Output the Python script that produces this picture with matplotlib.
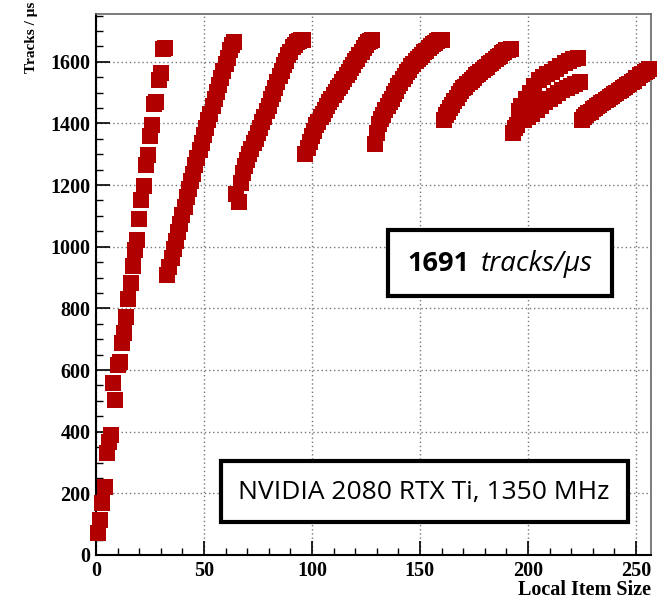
import matplotlib
matplotlib.use('Agg')
from matplotlib import pyplot as plt
from matplotlib.patches import Rectangle
import numpy as np

#tracks per microsecond, one block per 32 local items
SEG_1 = [70, 113, 168, 221, 330, 367, 389, 557, 502, 616, 627, 688, 719, 772, 832, 881, 938, 989, 1023, 1091, 1153, 1197, 1266, 1297, 1358, 1394, 1462, 1470, 1540, 1563, 1640, 1645]
SEG_2 = [907, 935, 962, 992, 1018, 1049, 1074, 1104, 1130, 1161, 1186, 1214, 1237, 1265, 1287, 1314, 1337, 1363, 1385, 1411, 1432, 1457, 1478, 1503, 1524, 1549, 1569, 1593, 1613, 1637, 1656, 1664]
SEG_3 = [1172, 1145, 1208, 1240, 1262, 1281, 1302, 1317, 1338, 1351, 1369, 1385, 1405, 1421, 1441, 1457, 1478, 1495, 1516, 1533, 1553, 1569, 1589, 1604, 1621, 1633, 1647, 1655, 1664, 1667, 1671, 1672]
SEG_4 = [1300, 1321, 1339, 1359, 1375, 1395, 1406, 1421, 1431, 1445, 1455, 1469, 1479, 1492, 1501, 1514, 1523, 1536, 1545, 1558, 1566, 1579, 1588, 1601, 1610, 1623, 1632, 1645, 1654, 1663, 1667, 1670]
SEG_5 = [1334, 1370, 1398, 1415, 1427, 1443, 1455, 1469, 1480, 1495, 1506, 1521, 1531, 1545, 1554, 1566, 1574, 1585, 1592, 1602, 1608, 1617, 1622, 1631, 1636, 1645, 1650, 1658, 1661, 1667, 1670, 1672]
SEG_6 = [1410, 1426, 1437, 1451, 1461, 1474, 1483, 1496, 1504, 1514, 1519, 1528, 1533, 1542, 1547, 1556, 1560, 1568, 1572, 1580, 1584, 1592, 1596, 1604, 1608, 1616, 1620, 1628, 1631, 1637, 1638, 1641]
SEG_7 = [1370, 1385, 1395, 1440, 1457, 1410, 1480, 1420, 1500, 1432, 1520, 1445, 1540, 1455, 1551, 1468, 1560, 1478, 1568, 1488, 1577, 1498, 1585, 1508, 1595, 1515, 1603, 1522, 1610, 1528, 1612, 1534]
SEG_8 = [1412, 1421, 1426, 1434, 1438, 1446, 1449, 1456, 1459, 1466, 1469, 1476, 1479, 1486, 1489, 1496, 1499, 1506, 1509, 1516, 1519, 1526, 1529, 1536, 1539, 1546, 1549, 1556, 1559, 1566, 1569, 1575]

XTICKS = [0, 50, 100, 150, 200, 250]
YTICKS = [0, 200, 400, 600, 800, 1000, 1200, 1400, 1600]

W, H = 667, 602

def fig_box(fig, x0, y0, x1, y1):
	#rectangle given in pixels from the top left corner
	rect = Rectangle((x0 / W, 1 - y1 / H), (x1 - x0) / W, (y1 - y0) / H, transform=fig.transFigure,
		facecolor='white', edgecolor='black', linewidth=3, zorder=5)
	fig.add_artist(rect)

def main():
	tracks = SEG_1 + SEG_2 + SEG_3 + SEG_4 + SEG_5 + SEG_6 + SEG_7 + SEG_8
	item_size = np.arange(1, len(tracks) + 1)

	fig = plt.figure(figsize=(W / 100, H / 100), dpi=100)
	ax = fig.add_axes([96 / W, 47 / H, 555 / W, 541 / H])

	ax.plot(item_size, tracks, 's', color='#b00000', markersize=11, markeredgewidth=0, clip_on=False, zorder=3)

	ax.set_xlim(0, 257)
	ax.set_ylim(0, 1755)
	ax.set_xticks(XTICKS)
	ax.set_xticks(np.arange(0, 257, 10), minor=True)
	ax.set_yticks(YTICKS)
	ax.set_yticks(np.arange(0, 1751, 50), minor=True)
	ax.tick_params(which='both', direction='in', top=False, right=False, colors='black')
	ax.tick_params(which='major', length=10, width=1.2, pad=4)
	ax.tick_params(which='minor', length=5, width=1)
	ax.grid(True, which='major', linestyle=(0, (1, 2)), color='#777777', linewidth=1)
	ax.set_axisbelow(True)
	for s in ['left', 'bottom']:
		ax.spines[s].set_linewidth(1.5)
		ax.spines[s].set_color('black')
	for s in ['top', 'right']:
		ax.spines[s].set_linewidth(1.2)
		ax.spines[s].set_color('#666666')
	for lbl in ax.get_xticklabels() + ax.get_yticklabels():
		lbl.set_fontfamily('Liberation Serif')
		lbl.set_fontweight('bold')
		lbl.set_fontsize(14.5)

	fig.text(651 / W, 1 - 590 / H, 'Local Item Size', ha='right', va='center',
		fontfamily='Liberation Serif', fontweight='bold', fontsize=14.5)
	fig.text(32 / W, 1 - 2 / H, 'Tracks / μs', rotation=90, ha='center', va='top',
		fontfamily='Liberation Serif', fontweight='bold', fontsize=11)

	#throughput box
	fig_box(fig, 388, 230, 612, 296)
	fig.text(469 / W, 1 - 264 / H, '1691', ha='right', va='center', fontfamily='Open Sans',
		fontweight='bold', fontsize=19.5, zorder=6)
	fig.text(481 / W, 1 - 264 / H, 'tracks/μs', ha='left', va='center', fontfamily='Open Sans',
		fontstyle='italic', fontsize=20, zorder=6)

	#device box
	fig_box(fig, 221, 461, 628, 522)
	fig.text(424 / W, 1 - 492 / H, 'NVIDIA 2080 RTX Ti, 1350 MHz', ha='center', va='center',
		fontfamily='Open Sans', fontweight='medium', fontsize=19, zorder=6)

	plt.savefig('out.png', dpi=100)


if __name__ == '__main__':
	main()
